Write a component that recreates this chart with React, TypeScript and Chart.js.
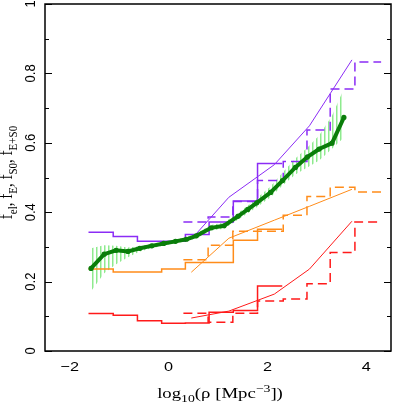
import React, { useEffect, useRef } from 'react';
import { Chart, registerables } from 'chart.js';

Chart.register(...registerables);

// ---- axis ranges & tick labels ----
const X_MIN = -2.5;
const X_MAX = 4.5;
const Y_MIN = 0;
const Y_MAX = 1;
const xTickValues = [-2, 0, 2, 4];
const xTickLabels = ['\u22122', '0', '2', '4'];
const yTickValues = [0, 0.2, 0.4, 0.6, 0.8, 1];
const yTickLabels = ['0', '0.2', '0.4', '0.6', '0.8', '1'];

// ---- solid histograms (bin edges + value per bin) ----
const solidEdges = [-1.62, -1.12, -0.63, -0.14, 0.34, 0.82, 1.31, 1.8, 2.3];
const purpleSolid = [0.342, 0.33, 0.316, 0.316, 0.336, 0.372, 0.432, 0.54];
const orangeSolid = [0.236, 0.228, 0.228, 0.236, 0.255, 0.255, 0.319, 0.351];
const redSolid = [0.108, 0.103, 0.087, 0.08, 0.081, 0.112, 0.117, 0.187];

// ---- dashed histograms ----
const dashedEdges = [0.3, 0.8, 1.3, 1.8, 2.32, 2.8, 3.27, 3.77, 4.3];
const purpleDashed = [0.372, 0.386, 0.431, 0.491, 0.546, 0.637, 0.755, 0.833];
const orangeDashed = [0.263, 0.305, 0.345, 0.345, 0.391, 0.445, 0.472, 0.458];
const redDashed = [0.109, 0.083, 0.109, 0.144, 0.15, 0.194, 0.284, 0.372];

// ---- thin model curves ----
const curveX = [0.46, 1.22, 2.14, 2.85, 3.71];
const purpleCurve = [0.322, 0.443, 0.537, 0.649, 0.839];
const orangeCurve = [0.227, 0.325, 0.377, 0.417, 0.466];
const redCurve = [0.095, 0.115, 0.164, 0.236, 0.374];

// ---- green running fraction with band ----
const greenX = [-1.569, -1.303, -1.062, -0.822, -0.581, -0.341, -0.1, 0.14, 0.361, 0.561, 0.862, 1.122, 1.403, 1.603, 1.784, 2.064, 2.305, 2.565, 2.806, 3.046, 3.307, 3.547];
const greenY = [0.238, 0.279, 0.29, 0.287, 0.296, 0.303, 0.31, 0.316, 0.322, 0.332, 0.355, 0.361, 0.388, 0.408, 0.427, 0.457, 0.491, 0.529, 0.559, 0.582, 0.599, 0.673];
const greenUpper = [0.296, 0.305, 0.303, 0.298, 0.302, 0.309, 0.315, 0.321, 0.328, 0.339, 0.363, 0.37, 0.398, 0.419, 0.44, 0.474, 0.514, 0.555, 0.586, 0.621, 0.678, 0.756];
const greenLower = [0.172, 0.224, 0.25, 0.27, 0.287, 0.296, 0.304, 0.311, 0.316, 0.325, 0.347, 0.352, 0.378, 0.397, 0.414, 0.443, 0.477, 0.509, 0.529, 0.549, 0.583, 0.615];

const PURPLE = '#8b2cf5';
const ORANGE = '#ff8c1a';
const RED = '#ff1a1a';
const GREEN = '#0a7d0a';

type Seg = { t: string; k: 'n' | 'sub' | 'sup' };
const xTitle: Seg[] = [
  { t: 'log', k: 'n' },
  { t: '10', k: 'sub' },
  { t: '(\u03c1 [Mpc', k: 'n' },
  { t: '\u22123', k: 'sup' },
  { t: '])', k: 'n' },
];
const yTitle: Seg[] = [
  { t: 'f', k: 'n' },
  { t: 'el', k: 'sub' },
  { t: ', f', k: 'n' },
  { t: 'E', k: 'sub' },
  { t: ', f', k: 'n' },
  { t: 'S0', k: 'sub' },
  { t: ', f', k: 'n' },
  { t: 'E+S0', k: 'sub' },
];

const MAIN_FONT = '15px "Liberation Serif", serif';
const SMALL_FONT = '11px "Liberation Serif", serif';

function richWidth(ctx: CanvasRenderingContext2D, segs: Seg[]) {
  let w = 0;
  for (const s of segs) {
    ctx.font = s.k === 'n' ? MAIN_FONT : SMALL_FONT;
    w += ctx.measureText(s.t).width;
  }
  return w;
}

function drawRich(ctx: CanvasRenderingContext2D, segs: Seg[], x0: number) {
  let x = x0;
  ctx.textAlign = 'left';
  ctx.textBaseline = 'alphabetic';
  for (const s of segs) {
    ctx.font = s.k === 'n' ? MAIN_FONT : SMALL_FONT;
    const dy = s.k === 'sub' ? 4 : s.k === 'sup' ? -6 : 0;
    ctx.fillText(s.t, x, dy);
    x += ctx.measureText(s.t).width;
  }
}

const framePlugin = {
  id: 'frame',
  afterDraw(chart: any) {
    const { ctx, chartArea: a } = chart;
    const xs = chart.scales.x;
    const ys = chart.scales.y;
    ctx.save();
    ctx.strokeStyle = '#000';
    ctx.fillStyle = '#000';
    ctx.lineWidth = 1.5;
    ctx.strokeRect(a.left, a.top, a.right - a.left, a.bottom - a.top);
    ctx.lineWidth = 1.2;
    ctx.beginPath();
    for (const t of xs.ticks) {
      const v = t.value;
      if (Math.abs(v - Math.round(v)) > 1e-6) continue;
      const px = Math.round(xs.getPixelForValue(v)) + 0.5;
      const len = Math.round(v) % 2 === 0 ? 7 : 4;
      ctx.moveTo(px, a.bottom);
      ctx.lineTo(px, a.bottom - len);
      ctx.moveTo(px, a.top);
      ctx.lineTo(px, a.top + len);
    }
    for (const t of ys.ticks) {
      const v = t.value;
      const py = Math.round(ys.getPixelForValue(v)) + 0.5;
      const len = Math.round(v * 10) % 2 === 0 ? 7 : 4;
      ctx.moveTo(a.left, py);
      ctx.lineTo(a.left + len, py);
      ctx.moveTo(a.right, py);
      ctx.lineTo(a.right - len, py);
    }
    ctx.stroke();

    // tick labels
    ctx.font = '13px "Liberation Sans", sans-serif';
    ctx.textAlign = 'center';
    ctx.textBaseline = 'alphabetic';
    xTickValues.forEach((v, i) => {
      const px = xs.getPixelForValue(v);
      ctx.save();
      ctx.translate(px, a.bottom + 19.5);
      ctx.scale(1.25, 1);
      ctx.fillText(xTickLabels[i], 0, 0);
      ctx.restore();
    });
    yTickValues.forEach((v, i) => {
      const py = ys.getPixelForValue(v);
      ctx.save();
      ctx.translate(a.left - 10, py);
      ctx.rotate(-Math.PI / 2);
      ctx.scale(1, 1.15);
      ctx.fillText(yTickLabels[i], 0, 0);
      ctx.restore();
    });

    // x title
    ctx.save();
    const cx = (a.left + a.right) / 2 + 2;
    ctx.translate(cx, a.bottom + 47);
    ctx.scale(1.25, 1);
    const wx = richWidth(ctx, xTitle);
    drawRich(ctx, xTitle, -wx / 2);
    ctx.restore();

    // y title
    ctx.save();
    const cy = (a.top + a.bottom) / 2 - 5;
    ctx.translate(12, cy);
    ctx.rotate(-Math.PI / 2);
    ctx.scale(1, 1.2);
    const wy = richWidth(ctx, yTitle);
    drawRich(ctx, yTitle, -wy / 2);
    ctx.restore();

    ctx.restore();
  },
};

export default function App() {
  const ref = useRef<HTMLCanvasElement>(null);
  useEffect(() => {
    document.body.style.margin = '0';
    const canvas = ref.current!;
    const ctx = canvas.getContext('2d')!;
    const pc = document.createElement('canvas');
    pc.width = 4;
    pc.height = 8;
    const p = pc.getContext('2d')!;
    p.fillStyle = 'rgba(130,232,130,0.9)';
    p.fillRect(0, 0, 1.5, 8);
    const pattern = ctx.createPattern(pc, 'repeat')!;

    const steps = (edges: number[], vals: number[]) =>
      edges.map((e, i) => ({ x: e, y: vals[Math.min(i, vals.length - 1)] }));
    const pts = (xs: number[], ys: number[]) => xs.map((x, i) => ({ x, y: ys[i] }));

    const stepDs = (edges: number[], vals: number[], color: string, dashed: boolean) => ({
      data: steps(edges, vals),
      borderColor: color,
      borderWidth: 1.5,
      borderDash: dashed ? [9, 5] : [],
      stepped: true,
      pointRadius: 0,
      fill: false,
      order: 2,
    });
    const curveDs = (ys: number[], color: string) => ({
      data: pts(curveX, ys),
      borderColor: color,
      borderWidth: 1,
      pointRadius: 0,
      fill: false,
      order: 1,
    });

    const chart = new Chart(canvas, {
      type: 'line',
      data: {
        datasets: [
          {
            data: pts(greenX, greenY),
            borderColor: GREEN,
            borderWidth: 4,
            pointRadius: 2.6,
            pointBackgroundColor: GREEN,
            pointBorderWidth: 0,
            fill: false,
            order: 0,
          } as any,
          curveDs(purpleCurve, PURPLE),
          curveDs(orangeCurve, ORANGE),
          curveDs(redCurve, RED),
          stepDs(solidEdges, purpleSolid, PURPLE, false),
          stepDs(solidEdges, orangeSolid, ORANGE, false),
          stepDs(solidEdges, redSolid, RED, false),
          stepDs(dashedEdges, purpleDashed, PURPLE, true),
          stepDs(dashedEdges, orangeDashed, ORANGE, true),
          stepDs(dashedEdges, redDashed, RED, true),
          {
            data: pts(greenX, greenUpper),
            borderColor: 'rgba(0,0,0,0)',
            borderWidth: 1,
            pointRadius: 0,
            backgroundColor: pattern,
            fill: '+1',
            order: 5,
          } as any,
          {
            data: pts(greenX, greenLower),
            borderColor: 'rgba(0,0,0,0)',
            borderWidth: 1,
            pointRadius: 0,
            fill: false,
            order: 5,
          },
        ],
      },
      options: {
        animation: false,
        responsive: false,
        devicePixelRatio: 1,
        layout: { padding: { left: 45, right: 2, top: 3, bottom: 56 } },
        plugins: {
          legend: { display: false },
          tooltip: { enabled: false },
          title: { display: false },
        },
        elements: { line: { tension: 0 } },
        scales: {
          x: {
            type: 'linear',
            min: X_MIN,
            max: X_MAX,
            ticks: { stepSize: 1, display: false },
            grid: { display: false, drawTicks: false },
            border: { display: false },
          },
          y: {
            type: 'linear',
            min: Y_MIN,
            max: Y_MAX,
            ticks: { stepSize: 0.1, display: false },
            grid: { display: false, drawTicks: false },
            border: { display: false },
          },
        },
      } as any,
      plugins: [framePlugin],
    });
    return () => chart.destroy();
  }, []);
  return (
    <div style={{ width: 395, height: 407 }}>
      <canvas ref={ref} width={395} height={407} style={{ display: 'block' }} />
    </div>
  );
}
